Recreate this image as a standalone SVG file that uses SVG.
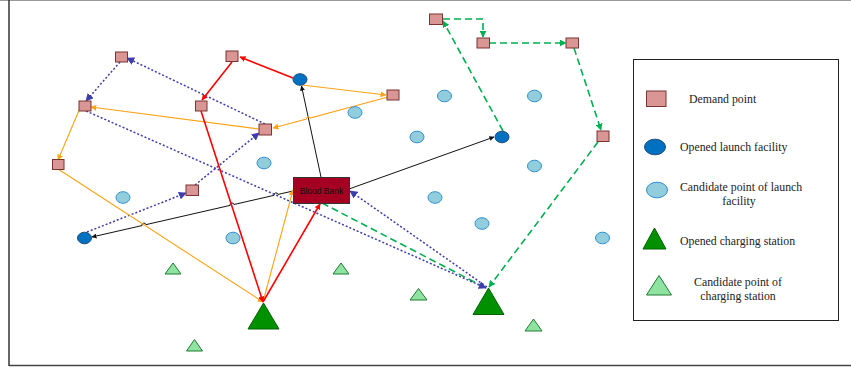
<svg xmlns="http://www.w3.org/2000/svg" width="851" height="369" viewBox="0 0 851 369">
<defs>
<style>
.dem{fill:#d99694;stroke:#7a3432;stroke-width:1}
.olf{fill:#0070c0;stroke:#1f4e79;stroke-width:1}
.clf{fill:#92cddc;stroke:#2e8fd6;stroke-width:1}
.ocs{fill:#009000;stroke:#006400;stroke-width:1}
.ccs{fill:#8fe3a0;stroke:#1e7a30;stroke-width:1}
.red{fill:none;stroke:#ff0000;stroke-width:1.6}
.org{fill:none;stroke:#ffa215;stroke-width:1.1}
.blk{fill:none;stroke:#111;stroke-width:1}
.blu{fill:none;stroke:#3d3dab;stroke-width:1.5;stroke-dasharray:2 2}
.grn{fill:none;stroke:#00b050;stroke-width:1.6;stroke-dasharray:7 4}
.lg{font-family:"Liberation Serif","Times New Roman",serif;font-size:11.8px;fill:#222}
.bb{font-family:"Liberation Sans",Arial,sans-serif;font-size:8.5px;fill:#111}
</style>
<marker id="aR" viewBox="0 0 10 10" refX="9" refY="5" markerWidth="6" markerHeight="6" markerUnits="userSpaceOnUse" orient="auto"><path d="M0,0 L10,5 L0,10 z" fill="#ff0000"/></marker>
<marker id="aO" viewBox="0 0 10 10" refX="9" refY="5" markerWidth="6" markerHeight="6" markerUnits="userSpaceOnUse" orient="auto"><path d="M0,0 L10,5 L0,10 z" fill="#ffa215"/></marker>
<marker id="aK" viewBox="0 0 10 10" refX="9" refY="5" markerWidth="5" markerHeight="5" markerUnits="userSpaceOnUse" orient="auto"><path d="M0,0 L10,5 L0,10 z" fill="#111"/></marker>
<marker id="aB" viewBox="0 0 10 10" refX="9" refY="5" markerWidth="8" markerHeight="8" markerUnits="userSpaceOnUse" orient="auto"><path d="M0,0 L10,5 L0,10 z" fill="#3d3dab"/></marker>
<marker id="aG" viewBox="0 0 10 10" refX="9" refY="5" markerWidth="7" markerHeight="7" markerUnits="userSpaceOnUse" orient="auto"><path d="M0,0 L10,5 L0,10 z" fill="#00b050"/></marker>
</defs>
<rect x="0" y="0" width="851" height="369" fill="#ffffff"/>
<g id="frame">
<line x1="0" y1="0.5" x2="851" y2="0.5" stroke="#999" stroke-width="1"/>
<line x1="9" y1="0" x2="9" y2="366" stroke="#333" stroke-width="1.5"/>
<line x1="9" y1="365.5" x2="851" y2="365.5" stroke="#444" stroke-width="1.5"/>
</g>
<g id="connectors">
<path class="blk" d="M321,177 L301.5,86" marker-end="url(#aK)"/>
<path class="blk" d="M349,189 L494,137" marker-end="url(#aK)"/>
<path class="blk" d="M293,191 L277.95,194.45 A2 2 0 0 0 274.05,195.35 L233.95,204.5 A2 2 0 0 0 230.05,205.4 L145.95,224.65 A2 2 0 0 0 142.05,225.55 L92,237" marker-end="url(#aK)"/>
<path class="grn" d="M322,203 L484,287"/>
<path class="blu" d="M87,232 L186,193" marker-end="url(#aB)"/>
<path class="blu" d="M195,185 L259,133" marker-end="url(#aB)"/>
<path class="blu" d="M265,124 L127,58" marker-end="url(#aB)"/>
<path class="blu" d="M120,62 L86,101" marker-end="url(#aB)"/>
<path class="blu" d="M86,111 L486,288" marker-end="url(#aB)"/>
<path class="blu" d="M487,287 L350,191" marker-end="url(#aB)"/>
<path class="grn" d="M503,131 L443,21" marker-end="url(#aG)"/>
<path class="grn" d="M443,19 L483,19 L483,37" marker-end="url(#aG)"/>
<path class="grn" d="M489,43 L566,43" marker-end="url(#aG)"/>
<path class="grn" d="M574,48 L601,130" marker-end="url(#aG)"/>
<path class="grn" d="M598,142 L489,287" marker-end="url(#aG)"/>
<path class="org" d="M302,85 L386,95" marker-end="url(#aO)"/>
<path class="org" d="M388,97 L310.1,118.1 A2 2 0 0 0 306.3,119.1 L273,128" marker-end="url(#aO)"/>
<path class="org" d="M259,129 L91,107" marker-end="url(#aO)"/>
<path class="org" d="M80,108 L58,160" marker-end="url(#aO)"/>
<path class="org" d="M58,169 L263,302" marker-end="url(#aO)"/>
<path class="org" d="M263,302 L293,190" marker-end="url(#aO)"/>
<path class="red" d="M293,78 L240,57" marker-end="url(#aR)"/>
<path class="red" d="M232,62 L202,100" marker-end="url(#aR)"/>
<path class="red" d="M201,111 L263,302" marker-end="url(#aR)"/>
<path class="red" d="M263,302 L320,204" marker-end="url(#aR)"/>
</g>
<g id="blood-bank">
<rect x="293.5" y="177.5" width="56" height="26" fill="#a50021" stroke="#333" stroke-width="1"/>
<text class="bb" x="321.5" y="193.5" text-anchor="middle">Blood Bank</text>
</g>
<g id="demand-points">
<rect class="dem" x="115.5" y="52" width="12" height="10"/>
<rect class="dem" x="226" y="51" width="12" height="10.5"/>
<rect class="dem" x="79" y="101" width="12" height="10"/>
<rect class="dem" x="195.5" y="101" width="11.5" height="10"/>
<rect class="dem" x="259" y="124" width="12.5" height="11"/>
<rect class="dem" x="52.5" y="159.5" width="11.5" height="10"/>
<rect class="dem" x="186" y="185" width="12.5" height="10.5"/>
<rect class="dem" x="429.5" y="14" width="13" height="10.5"/>
<rect class="dem" x="477" y="38" width="12.5" height="10"/>
<rect class="dem" x="566" y="38" width="12.5" height="10"/>
<rect class="dem" x="387" y="90" width="12" height="10"/>
<rect class="dem" x="597" y="131" width="12" height="10.5"/>
</g>
<g id="opened-launch-facilities">
<ellipse class="olf" cx="300" cy="79.5" rx="7" ry="5.8"/>
<ellipse class="olf" cx="502" cy="137" rx="7" ry="5.8"/>
<ellipse class="olf" cx="84.5" cy="238" rx="7" ry="5.8"/>
</g>
<g id="candidate-launch-points">
<ellipse class="clf" cx="264" cy="163" rx="7" ry="5.8"/>
<ellipse class="clf" cx="123" cy="197.5" rx="7" ry="5.8"/>
<ellipse class="clf" cx="233" cy="238" rx="7" ry="5.8"/>
<ellipse class="clf" cx="355" cy="112.5" rx="7" ry="5.8"/>
<ellipse class="clf" cx="444.5" cy="96" rx="7" ry="5.8"/>
<ellipse class="clf" cx="534.5" cy="96" rx="7" ry="5.8"/>
<ellipse class="clf" cx="417" cy="137" rx="7" ry="5.8"/>
<ellipse class="clf" cx="534.5" cy="166" rx="7" ry="5.8"/>
<ellipse class="clf" cx="435" cy="197.5" rx="7" ry="5.8"/>
<ellipse class="clf" cx="482" cy="223.5" rx="7" ry="5.8"/>
<ellipse class="clf" cx="602.5" cy="238" rx="7" ry="5.8"/>
</g>
<g id="opened-charging-stations">
<polygon class="ocs" points="263.5,303 279,329 248,329"/>
<polygon class="ocs" points="488.5,288 504,314.5 473,314.5"/>
</g>
<g id="candidate-charging-stations">
<polygon class="ccs" points="173,263 181,274 165,274"/>
<polygon class="ccs" points="341,263 349,274 333,274"/>
<polygon class="ccs" points="418.5,288.5 427,300 410,300"/>
<polygon class="ccs" points="533.5,319 542,331 525,331"/>
<polygon class="ccs" points="194.5,339.5 202.5,351 186.5,351"/>
</g>
<g id="legend">
<rect x="633.5" y="59.5" width="205" height="261" fill="#fff" stroke="#222" stroke-width="1"/>
<rect class="dem" x="646.5" y="91" width="19.5" height="15.5"/>
<text class="lg" x="689" y="103">Demand point</text>
<ellipse class="olf" cx="655" cy="147" rx="10.5" ry="7.8"/>
<text class="lg" x="680" y="151">Opened launch facility</text>
<ellipse class="clf" cx="657" cy="190" rx="10.5" ry="7.8"/>
<text class="lg" x="680" y="191">Candidate point of launch</text>
<text class="lg" x="739" y="205" text-anchor="middle">facility</text>
<polygon class="ocs" points="654.5,228 666,249 643,249"/>
<text class="lg" x="680" y="245">Opened charging station</text>
<polygon class="ccs" points="659,275.5 671.5,295 646.5,295"/>
<text class="lg" x="738" y="286" text-anchor="middle">Candidate point of</text>
<text class="lg" x="738" y="300" text-anchor="middle">charging station</text>
</g>
</svg>
